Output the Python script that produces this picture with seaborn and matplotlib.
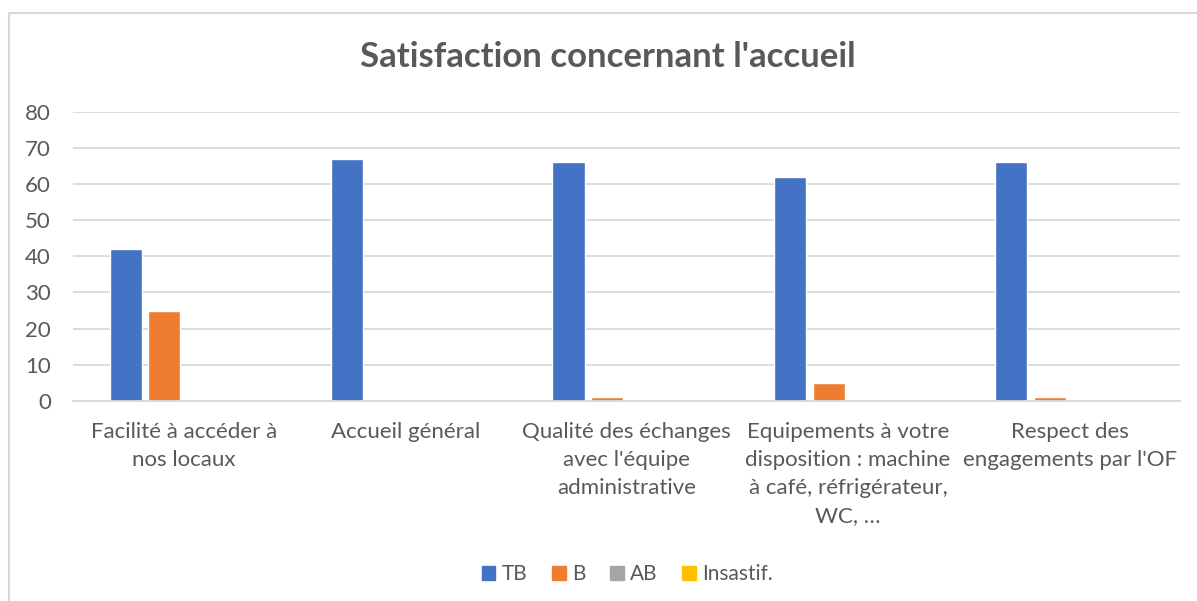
import matplotlib
matplotlib.use("Agg")
import matplotlib.pyplot as plt
import matplotlib.patches as mpatches
import pandas as pd
import seaborn as sns

categories = [
    "Facilité à accéder à\nnos locaux",
    "Accueil général",
    "Qualité des échanges\navec l'équipe\nadministrative",
    "Equipements à votre\ndisposition : machine\nà café, réfrigérateur,\nWC, …",
    "Respect des\nengagements par l'OF",
]
series = ["TB", "B", "AB", "Insastif."]
tb = [42, 67, 66, 62, 66]
b = [25, 0, 1, 5, 1]
ab = [0, 0, 0, 0, 0]
insastif = [0, 0, 0, 0, 0]
colors = ["#4472C4", "#ED7D31", "#A5A5A5", "#FFC000"]

rows = []
for name, vals in zip(series, [tb, b, ab, insastif]):
    for cat, v in zip(categories, vals):
        rows.append({"cat": cat, "serie": name, "val": v})
df = pd.DataFrame(rows)

sns.set_style("white")
plt.rcParams["font.family"] = ["Lato", "DejaVu Sans"]
grey = "#595959"

fig = plt.figure(figsize=(11.97, 6.01), dpi=100)
ax = fig.add_axes([0.061, 0.333, 0.925, 0.481])

sns.barplot(data=df, x="cat", y="val", hue="serie", palette=colors,
            width=0.7, gap=0.17, ax=ax, legend=False, saturation=1,
            errorbar=None)

ax.set_ylim(0, 80)
ax.set_yticks(range(0, 81, 10))
ax.yaxis.grid(True, color="#D9D9D9", linewidth=1.3)
ax.set_axisbelow(True)
for s in ["top", "right", "left"]:
    ax.spines[s].set_visible(False)
ax.spines["bottom"].set_color("#D9D9D9")
ax.spines["bottom"].set_linewidth(1.3)
ax.set_xlabel("")
ax.set_ylabel("")
ax.tick_params(axis="both", length=0, labelsize=16, colors=grey)
ax.tick_params(axis="y", pad=16)
ax.tick_params(axis="x", pad=15)
for lbl in ax.get_xticklabels():
    lbl.set_linespacing(1.5)

fig.text(0.508, 1 - 57 / 601, "Satisfaction concernant l'accueil",
         ha="center", va="center", fontsize=25, fontweight="bold", color=grey)

handles = [mpatches.Patch(color=c, label=s) for c, s in zip(colors, series)]
fig.legend(handles=handles, loc="center", bbox_to_anchor=(0.524, 0.045),
           ncol=4, frameon=False, fontsize=15, labelcolor=grey,
           handlelength=0.65, handleheight=0.65, handletextpad=0.3,
           columnspacing=1.2)

fig.patches.append(mpatches.Rectangle((0.0075, -0.1), 1.1, 1.078,
                                      transform=fig.transFigure,
                                      fill=False, edgecolor="#D9D9D9",
                                      linewidth=1.5, zorder=-1))

fig.savefig("out.png", dpi=100)
